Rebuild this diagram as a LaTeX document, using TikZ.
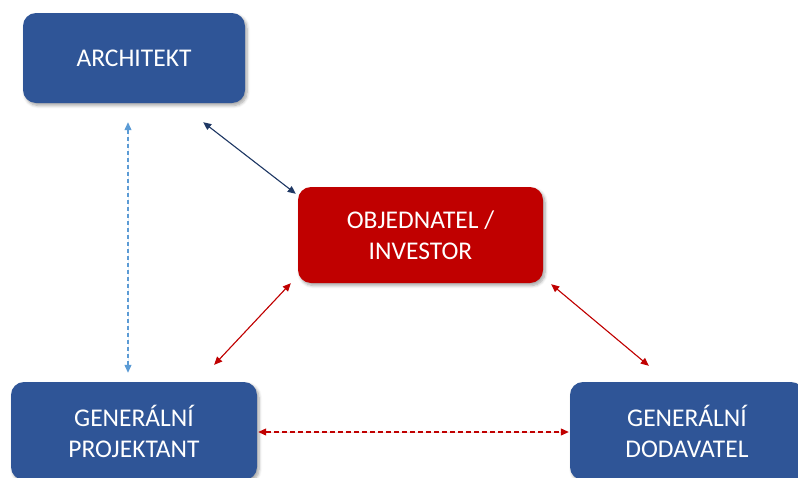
\documentclass[tikz,border=0pt]{standalone}
\usepackage{fontspec}
\setmainfont{Carlito}
\usetikzlibrary{arrows.meta,shadows.blur}
\definecolor{boxblue}{HTML}{2F5597}
\definecolor{boxred}{HTML}{C00000}
\definecolor{linknavy}{HTML}{1F3864}
\definecolor{linklight}{HTML}{5B9BD5}
\definecolor{linkred}{HTML}{C00000}
\tikzset{
  role/.style={rectangle, rounded corners=13pt, draw=none, text=white,
    align=center, font=\fontsize{25.5}{31}\selectfont,
    blur shadow={shadow xshift=2pt, shadow yshift=-2.5pt, shadow blur steps=6,
      shadow opacity=35, shadow blur radius=3pt}},
  bluebox/.style={role, fill=boxblue},
  redbox/.style={role, fill=boxred},
  link/.style={line width=1.1pt, {Triangle[length=8pt,width=7pt]}-{Triangle[length=8pt,width=7pt]}},
}
\begin{document}
\begin{tikzpicture}[x=1pt,y=-1pt]
  \useasboundingbox (0,0) rectangle (798,477);
  \clip (0,0) rectangle (798,477);

  % the four parties
  \node[bluebox, minimum width=222pt, minimum height=90pt] (arch) at (134,58) {ARCHITEKT};
  \node[redbox, minimum width=245pt, minimum height=96pt] (inv) at (420.5,235) {OBJEDNATEL /\\INVESTOR};
  \node[bluebox, minimum width=246pt, minimum height=98pt] (proj) at (134,431) {GENERÁLNÍ\\PROJEKTANT};
  \node[bluebox, minimum width=234pt, minimum height=98pt] (dod) at (687,431) {GENERÁLNÍ\\DODAVATEL};

  % end points of the relations, kept clear of the boxes
  \coordinate (archR) at ([shift={(-42,19)}]arch.south east);
  \coordinate (invTL) at ([shift={(-2,7)}]inv.north west);
  \coordinate (archB) at ([shift={(-6,19)}]arch.south);
  \coordinate (projT) at ([shift={(-6,-9)}]proj.north);
  \coordinate (invBL) at ([shift={(-7,0)}]inv.south west);
  \coordinate (projTR) at ([shift={(-43,-17)}]proj.north east);
  \coordinate (invBR) at ([shift={(8,1)}]inv.south east);
  \coordinate (dodTL) at ([shift={(79,-16)}]dod.north west);
  \coordinate (projR) at ([shift={(1,1)}]proj.east);
  \coordinate (dodL) at ([shift={(-1,1)}]dod.west);

  % relations
  \draw[link, draw=linknavy, fill=linknavy] (archR) -- (invTL);
  \draw[link, draw=linklight, fill=linklight, dash pattern=on 4pt off 3pt] (archB) -- (projT);
  \draw[link, draw=linkred, fill=linkred] (invBL) -- (projTR);
  \draw[link, draw=linkred, fill=linkred] (invBR) -- (dodTL);
  \draw[link, draw=linkred, fill=linkred, dash pattern=on 5pt off 3pt] (projR) -- (dodL);
\end{tikzpicture}
\end{document}
